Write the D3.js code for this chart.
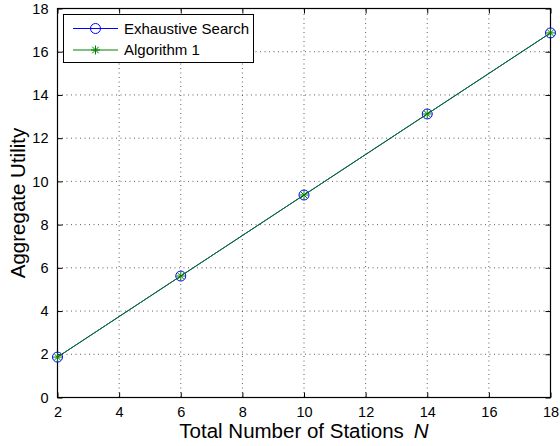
<!DOCTYPE html>
<html>
<head>
<meta charset="utf-8">
<script src="https://cdn.jsdelivr.net/npm/d3@7"></script>
<style>
  html, body { margin: 0; padding: 0; background: #fff; }
  svg { display: block; font-family: "Liberation Sans", Arial, Helvetica, sans-serif; }
</style>
</head>
<body>
<svg id="chart" width="560" height="446"></svg>
<script>
// Number of stations and the aggregate utility reached by each method
const stations = [2, 6, 10, 14, 18];
const exhaustive = [1.87, 5.62, 9.37, 13.12, 16.87];
const algorithm1 = [1.87, 5.62, 9.37, 13.12, 16.87];
const xTicks = [2, 4, 6, 8, 10, 12, 14, 16, 18];
const yTicks = [0, 2, 4, 6, 8, 10, 12, 14, 16, 18];
const seriesNames = ["Exhaustive Search", "Algorithm 1"];

const svg = d3.select("#chart");
const m = { left: 57.5, right: 550.5, top: 8.5, bottom: 397.5 };

const x = d3.scaleLinear().domain([2, 18]).range([m.left, m.right]);
const y = d3.scaleLinear().domain([0, 18]).range([m.bottom, m.top]);

// dotted grid
const grid = svg.append("g").attr("stroke", "#333").attr("stroke-width", 0.8)
  .attr("stroke-dasharray", "1,3.5");
xTicks.slice(1, -1).forEach(t => {
  grid.append("line").attr("x1", x(t)).attr("x2", x(t)).attr("y1", m.bottom).attr("y2", m.top);
});
yTicks.slice(1, -1).forEach(t => {
  grid.append("line").attr("y1", y(t)).attr("y2", y(t)).attr("x1", m.left).attr("x2", m.right);
});

// axes with inward ticks on all four sides
const tl = 5;
const bottomAxis = d3.axisBottom(x).tickValues(xTicks).tickSizeInner(-tl).tickSizeOuter(0).tickPadding(9);
const leftAxis = d3.axisLeft(y).tickValues(yTicks).tickSizeInner(-tl).tickSizeOuter(0).tickPadding(9);
const topAxis = d3.axisTop(x).tickValues(xTicks).tickSizeInner(-tl).tickSizeOuter(0).tickFormat("");
const rightAxis = d3.axisRight(y).tickValues(yTicks).tickSizeInner(-tl).tickSizeOuter(0).tickFormat("");

function style(g) {
  g.select(".domain").remove();
  g.selectAll(".tick line").attr("stroke", "#000");
  g.selectAll(".tick text").attr("fill", "#000").style("font-size", "14.5px")
    .style("font-family", "'Liberation Sans', Arial, sans-serif");
}
svg.append("g").attr("transform", `translate(0,${m.bottom})`).call(bottomAxis).call(style);
svg.append("g").attr("transform", `translate(${m.left},0)`).call(leftAxis).call(style);
svg.append("g").attr("transform", `translate(0,${m.top})`).call(topAxis).call(style);
svg.append("g").attr("transform", `translate(${m.right},0)`).call(rightAxis).call(style);

svg.append("rect").attr("x", m.left).attr("y", m.top)
  .attr("width", m.right - m.left).attr("height", m.bottom - m.top)
  .attr("fill", "none").attr("stroke", "#000").attr("stroke-width", 1.2);

// series
const line = d3.line().x(d => x(d[0])).y(d => y(d[1]));
const blue = "#0000ff", green = "#008000";
const exData = stations.map((s, i) => [s, exhaustive[i]]);
const alData = stations.map((s, i) => [s, algorithm1[i]]);

function asterisk(g, cx, cy, r, color) {
  const a = g.append("g").attr("stroke", color).attr("stroke-width", 1);
  a.append("line").attr("x1", cx - r).attr("x2", cx + r).attr("y1", cy).attr("y2", cy);
  a.append("line").attr("x1", cx).attr("x2", cx).attr("y1", cy - r).attr("y2", cy + r);
  const d = r * 0.72;
  a.append("line").attr("x1", cx - d).attr("x2", cx + d).attr("y1", cy - d).attr("y2", cy + d);
  a.append("line").attr("x1", cx - d).attr("x2", cx + d).attr("y1", cy + d).attr("y2", cy - d);
}

svg.append("path").datum(exData).attr("d", line).attr("fill", "none").attr("stroke", blue).attr("stroke-width", 1);
svg.append("g").selectAll("circle").data(exData).join("circle")
  .attr("cx", d => x(d[0])).attr("cy", d => y(d[1])).attr("r", 5)
  .attr("fill", "none").attr("stroke", blue).attr("stroke-width", 1);
svg.append("path").datum(alData).attr("d", line).attr("fill", "none").attr("stroke", green).attr("stroke-width", 1);
const ast = svg.append("g");
alData.forEach(d => asterisk(ast, x(d[0]), y(d[1]), 4.5, green));

// axis titles
const xl = svg.append("text").attr("x", (m.left + m.right) / 2).attr("y", 438)
  .attr("text-anchor", "middle").style("font-size", "20.5px").attr("fill", "#000");
xl.append("tspan").text("Total Number of Stations");
xl.append("tspan").attr("dx", 10).style("font-style", "italic").text("N");

svg.append("text").attr("transform", `translate(24.5,${(m.top + m.bottom) / 2}) rotate(-90)`)
  .attr("text-anchor", "middle").style("font-size", "20.5px").attr("fill", "#000")
  .text("Aggregate Utility");

// legend
const lg = svg.append("g");
lg.append("rect").attr("x", 63.5).attr("y", 14.5).attr("width", 190).attr("height", 48)
  .attr("fill", "#fff").attr("stroke", "#000").attr("stroke-width", 1);
const rows = [
  { name: seriesNames[0], color: blue, y: 28.5, mark: "circle" },
  { name: seriesNames[1], color: green, y: 50, mark: "asterisk" }
];
rows.forEach(r => {
  lg.append("line").attr("x1", 73).attr("x2", 118).attr("y1", r.y).attr("y2", r.y)
    .attr("stroke", r.color).attr("stroke-width", 1);
  if (r.mark === "circle") {
    lg.append("circle").attr("cx", 95.5).attr("cy", r.y).attr("r", 5)
      .attr("fill", "none").attr("stroke", r.color);
  } else {
    asterisk(lg, 95.5, r.y, 4.5, r.color);
  }
  lg.append("text").attr("x", 124).attr("y", r.y + 5.3).style("font-size", "15px")
    .attr("fill", "#000").text(r.name);
});
</script>
</body>
</html>
